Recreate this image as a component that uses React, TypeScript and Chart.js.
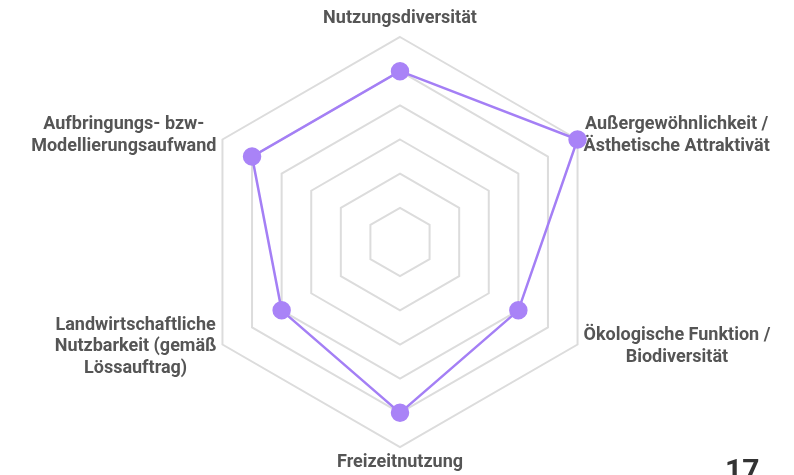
import React, { useEffect, useRef } from "react";
import { Chart, registerables } from "chart.js";

Chart.register(...registerables);

const categories: string[][] = [
  ["Nutzungsdiversität"],
  ["Außergewöhnlichkeit /", "Ästhetische Attraktivät"],
  ["Ökologische Funktion /", "Biodiversität"],
  ["Freizeitnutzung"],
  ["Landwirtschaftliche", "Nutzbarkeit (gemäß", "Lössauftrag)"],
  ["Aufbringungs- bzw-", "Modellierungsaufwand"],
];
const values: number[] = [5, 6, 4, 5, 4, 5];
const scaleMin = 0;
const scaleMax = 6;
const pageNumber = "17";

const LABEL_FONT = "bold 18px Roboto";
const LINE_H = 21.5;

const labelPlugin = {
  id: "centeredPointLabels",
  afterDraw(chart: any) {
    const scale = chart.scales.r;
    const ctx = chart.ctx;
    ctx.save();
    ctx.font = LABEL_FONT;
    ctx.fillStyle = "#555555";
    ctx.textBaseline = "middle";
    ctx.textAlign = "center";
    const n = categories.length;
    for (let i = 0; i < n; i++) {
      const lines = categories[i];
      const p = scale.getPointPositionForValue(i, scaleMax);
      const blockW = Math.max(...lines.map((l: string) => ctx.measureText(l).width));
      const blockH = lines.length * LINE_H;
      let cx = p.x;
      let cy = p.y;
      const dx = p.x - scale.xCenter;
      const upper = p.y < scale.yCenter;
      if (Math.abs(dx) < 1) {
        if (upper) {
          cy = p.y - 8 - blockH / 2;
        } else {
          cy = p.y + 5 + blockH / 2;
        }
      } else if (dx > 0) {
        cx = p.x + 6 + blockW / 2;
        cy = upper ? p.y - 4 : p.y + 2;
      } else {
        cx = p.x - 6 - blockW / 2;
        cy = upper ? p.y - 4 : p.y + 2;
      }
      const top = cy - blockH / 2;
      lines.forEach((l: string, k: number) => {
        ctx.fillText(l, cx, top + LINE_H * k + LINE_H / 2);
      });
    }
    ctx.font = "bold 30px Roboto";
    ctx.fillStyle = "#333333";
    ctx.textAlign = "left";
    ctx.textBaseline = "alphabetic";
    ctx.fillText(pageNumber, 725, 480);
    ctx.restore();
  },
};

export default function App() {
  const ref = useRef<HTMLCanvasElement | null>(null);
  useEffect(() => {
    document.body.style.margin = "0";
    const c = ref.current;
    if (!c) return;
    const chart = new Chart(c, {
      type: "radar",
      data: {
        labels: categories,
        datasets: [
          {
            data: values,
            borderColor: "#a47ff5",
            backgroundColor: "rgba(0,0,0,0)",
            pointBackgroundColor: "#a983f7",
            pointBorderColor: "#a983f7",
            pointRadius: 8,
            borderWidth: 2.5,
            fill: false,
          },
        ],
      },
      options: {
        responsive: false,
        animation: false,
        layout: { padding: { top: 37, bottom: 28, left: 6, right: 0 } },
        plugins: { legend: { display: false }, tooltip: { enabled: false } },
        scales: {
          r: {
            min: scaleMin,
            max: scaleMax,
            ticks: { display: false, stepSize: 1 },
            angleLines: { display: false },
            grid: { color: "#dcdcdc", lineWidth: 2 },
            pointLabels: { display: false },
          },
        },
      },
      plugins: [labelPlugin],
    });
    return () => chart.destroy();
  }, []);
  return (
    <div style={{ position: "absolute", left: 0, top: 0, width: 794, height: 475, background: "#fff" }}>
      <canvas ref={ref} width={794} height={475} style={{ width: 794, height: 475 }} />
    </div>
  );
}
